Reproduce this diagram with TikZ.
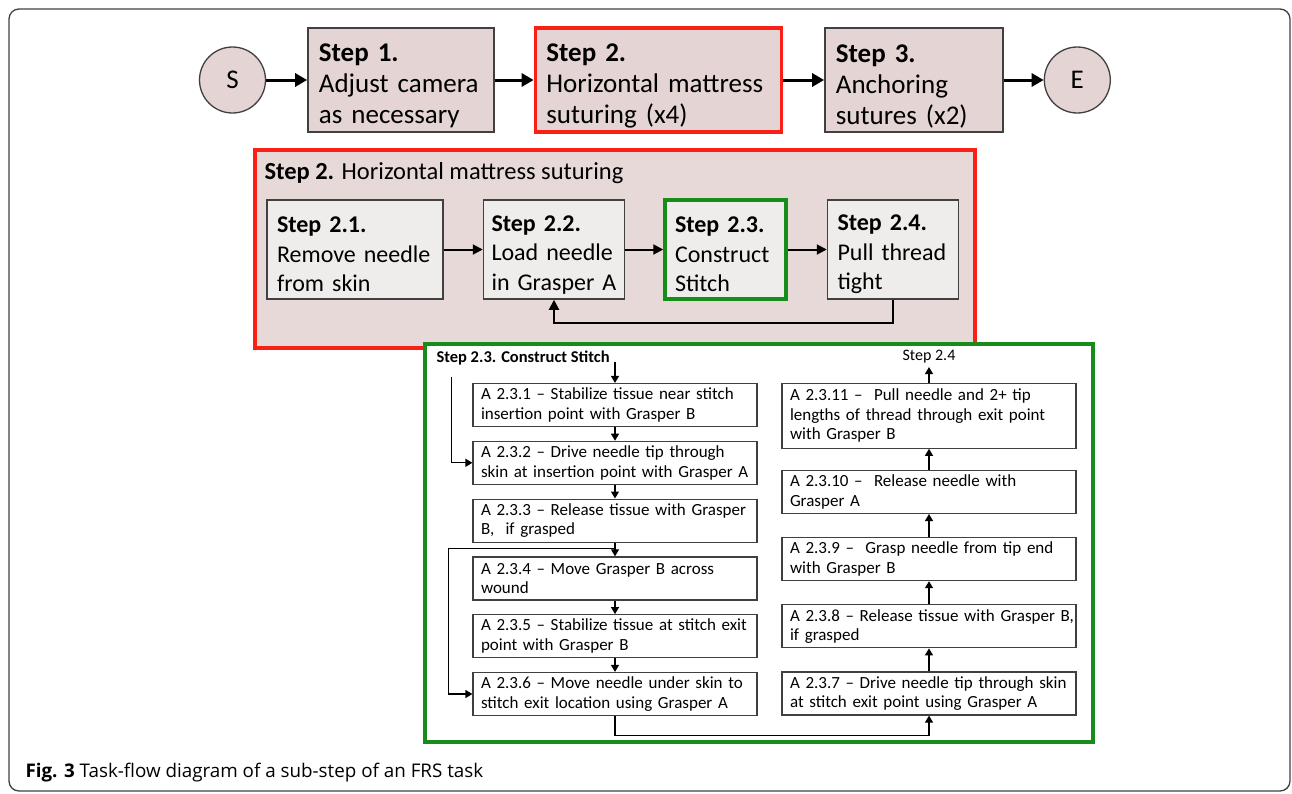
\documentclass[tikz,border=0pt]{standalone}
\usepackage{fontspec}
\setmainfont{Carlito}
\newfontfamily\capfont{Open Sans}
\usetikzlibrary{arrows.meta,positioning}

\hyphenpenalty=10000
\exhyphenpenalty=10000
\hfuzz=20pt

\definecolor{stepfill}{RGB}{228,212,212}
\definecolor{framefill}{RGB}{232,217,217}
\definecolor{subfill}{RGB}{239,236,236}
\definecolor{boxgray}{RGB}{64,64,64}
\definecolor{redline}{RGB}{250,32,22}
\definecolor{greenline}{RGB}{24,140,24}

\tikzset{
  stepbox/.style={draw=boxgray, line width=1.5pt, fill=stepfill, align=left,
    minimum height=104pt, inner xsep=11pt, inner ysep=2pt,
    execute at begin node={\rule{0pt}{30pt}}, font=\fontsize{27}{31}\selectfont},
  endpt/.style={circle, draw=boxgray, line width=1.3pt, fill=stepfill,
    minimum size=66pt, inner sep=0pt, font=\fontsize{27}{31}\selectfont},
  subbox/.style={draw=boxgray, line width=1.5pt, fill=subfill, align=left,
    minimum height=99pt, inner xsep=10pt, inner ysep=2pt,
    execute at begin node={\rule{0pt}{26pt}}, font=\fontsize{24}{29.5}\selectfont},
  actbox/.style={draw=boxgray, line width=1.2pt, fill=white, align=left,
    minimum height=43pt, inner xsep=8pt, inner ysep=0pt,
    font=\fontsize{17}{19.5}\selectfont},
  bigarrow/.style={-{Triangle[length=12pt,width=13pt]}, line width=3pt},
  midarrow/.style={-{Triangle[length=10pt,width=10pt]}, line width=2pt},
  smallarrow/.style={-{Triangle[length=7pt,width=8pt]}, line width=1.2pt}
}

\begin{document}
\begin{tikzpicture}[x=1pt,y=-1pt]
  \useasboundingbox (0,0) rectangle (1292,793);
  \draw[boxgray, line width=1.3pt, rounded corners=10pt] (9,9) rectangle (1290,791);

  \node[endpt] (s) at (232.5,80) {S};
  \node[stepbox, text width=164pt, right=41pt of s] (s1) {\textbf{Step 1.}\\Adjust camera\\as necessary};
  \node[stepbox, draw=redline, line width=3.5pt, text width=224pt, right=39pt of s1] (s2) {\textbf{Step 2.}\\Horizontal mattress\\suturing (x4)};
  \node[stepbox, text width=156pt, right=41pt of s2] (s3) {\textbf{Step 3.}\\Anchoring\\sutures (x2)};
  \node[endpt, right=40pt of s3] (e) {E};

  \draw[bigarrow] (s) -- (s1);
  \draw[bigarrow] (s1) -- (s2);
  \draw[bigarrow] (s2) -- (s3);
  \draw[bigarrow] (s3) -- (e);

  \node[draw=redline, line width=3.5pt, fill=framefill, minimum width=720pt, minimum height=198pt] (s2frame) at (615,249) {};
  \node[anchor=west, font=\fontsize{24.5}{29}\selectfont] (s2title) at (261,173) {\textbf{Step 2.} Horizontal mattress suturing};

  \node[subbox, text width=156pt] (s21) at (355,249.5) {\textbf{Step 2.1.}\\Remove needle\\from skin};
  \node[subbox, inner xsep=8pt, text width=125pt, right=39pt of s21] (s22) {\textbf{Step 2.2.}\\Load needle\\in Grasper A};
  \node[subbox, draw=greenline, line width=3.5pt, text width=101pt, right=38pt of s22] (s23) {\textbf{Step 2.3.}\\Construct\\Stitch};
  \node[subbox, text width=111pt, right=39pt of s23] (s24) {\textbf{Step 2.4.}\\Pull thread\\tight};

  \draw[midarrow] (s21) -- (s22);
  \draw[midarrow] (s22) -- (s23);
  \draw[midarrow] (s23) -- (s24);
  \draw[midarrow] (s24.south) -- ++(0,23) -| (s22.south);

  \node[draw=greenline, line width=3.5pt, fill=white, minimum width=668pt, minimum height=398pt] (s23frame) at (759,543) {};
  \node[anchor=west, font=\bfseries\fontsize{16.5}{20}\selectfont] (s23title) at (433,358) {Step 2.3. Construct Stitch};
  \node[font=\fontsize{16}{20}\selectfont] (next24) at (929,357) {Step 2.4};

  \node[actbox, text width=268pt] (a1) at (615,405) {A 2.3.1 – Stabilize tissue near stitch\\insertion point with Grasper B};
  \node[actbox, text width=268pt, below=13.6pt of a1] (a2) {A 2.3.2 – Drive needle tip through\\skin at insertion point with Grasper A};
  \node[actbox, text width=268pt, below=13.6pt of a2] (a3) {A 2.3.3 – Release tissue with Grasper\\B,\ \ if grasped};
  \node[actbox, text width=268pt, below=13.6pt of a3] (a4) {A 2.3.4 – Move Grasper B across\\wound};
  \node[actbox, text width=268pt, below=13.6pt of a4] (a5) {A 2.3.5 – Stabilize tissue at stitch exit\\point with Grasper B};
  \node[actbox, text width=268pt, below=13.6pt of a5] (a6) {A 2.3.6 – Move needle under skin to\\stitch exit location using Grasper A};

  \node[actbox, text width=278pt] (a7) at (929,693.5) {A 2.3.7 – Drive needle tip through skin\\at stitch exit point using Grasper A};
  \node[actbox, text width=278pt, above=23pt of a7] (a8) {\mbox{A 2.3.8 – Release tissue with Grasper B,}\\if grasped};
  \node[actbox, text width=278pt, above=23pt of a8] (a9) {A 2.3.9 –\ \ Grasp needle from tip end\\with Grasper B};
  \node[actbox, text width=278pt, above=23pt of a9] (a10) {A 2.3.10 –\ \ Release needle with\\Grasper A};
  \node[actbox, text width=278pt, minimum height=65pt, above=21pt of a10] (a11) {A 2.3.11 –\ \ Pull needle and 2+ tip\\lengths of thread through exit point\\with Grasper B};

  \coordinate (in23) at ([yshift=21pt]a1.north);
  \coordinate (skip1) at ([xshift=-21pt,yshift=6pt]a1.north west);
  \coordinate (j34) at ([yshift=-6pt]a3.south);

  \draw[smallarrow] (in23) -- (a1);
  \draw[smallarrow] (a1) -- (a2);
  \draw[smallarrow] (a2) -- (a3);
  \draw[smallarrow] (a3) -- (a4);
  \draw[smallarrow] (a4) -- (a5);
  \draw[smallarrow] (a5) -- (a6);
  \draw[smallarrow] (skip1) |- (a2.west);
  \draw[smallarrow] (j34) -| ([xshift=-24pt]a6.west) -- (a6.west);
  \draw[smallarrow] (a6.south) -- ++(0,19) -| (a7.south);
  \draw[smallarrow] (a7) -- (a8);
  \draw[smallarrow] (a8) -- (a9);
  \draw[smallarrow] (a9) -- (a10);
  \draw[smallarrow] (a10) -- (a11);
  \draw[smallarrow] (a11) -- (next24);

  \node[anchor=west, font=\capfont\fontsize{18.8}{22}\selectfont] (caption) at (22,773) {\textbf{Fig. 3} Task-flow diagram of a sub-step of an FRS task};
\end{tikzpicture}
\end{document}
